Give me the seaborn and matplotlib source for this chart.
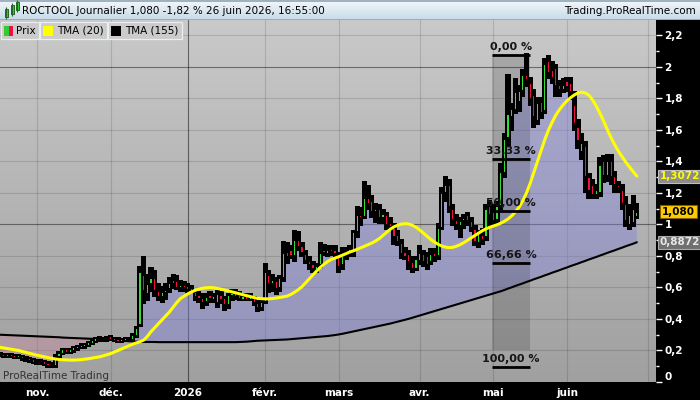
import numpy as np
import pandas as pd
import matplotlib
matplotlib.use("Agg")
import matplotlib.pyplot as plt
from matplotlib.patches import Rectangle
from matplotlib.colors import LinearSegmentedColormap
import seaborn as sns

sns.set_theme(style="white")
plt.rcParams["font.family"] = ["DejaVu Sans"]

# === Data: ROCTOOL daily, 20 Oct 2025 -> 26 Jun 2026 ===
holidays = pd.to_datetime(["2025-12-25", "2025-12-26", "2026-01-01",
                           "2026-04-03", "2026-04-06", "2026-05-01"])
days_all = pd.bdate_range("2025-10-20", "2026-07-03")
days_all = days_all[~days_all.isin(holidays)]
days = days_all[days_all <= pd.Timestamp("2026-06-26")]

opens = [.17, .17, .165, .17, .165, .16, .165, .145, .145, .14,
         .13, .125, .13, .115, .11, .105, .16, .185, .20, .19,
         .20, .215, .225, .23, .235, .25, .26, .275, .27, .275,
         .285, .275, .265, .26, .265, .27, .275, .295, .36, .68,
         .56, .62, .66, .58, .54, .57, .59, .65, .64, .60,
         .61, .60, .59, .57, .55, .53, .51, .55, .53, .50,
         .55, .53, .49, .55, .57, .55, .53, .54, .53, .53,
         .50, .47, .51, .68, .62, .64, .60, .66, .82, .84,
         .80, .90, .86, .81, .77, .75, .72, .74, .84, .81,
         .84, .84, .80, .74, .80, .83, .83, .95, 1.06, 1.05,
         1.17, 1.15, 1.08, 1.10, 1.05, 1.06, 1.00, .98, .93, .88,
         .82, .81, .76, .72, .77, .81, .80, .76, .81, .80,
         .98, 1.20, 1.25, 1.10, 1.03, .99, 1.02, 1.06, 1.02, .97,
         .88, .93, .92, 1.12, 1.08, 1.03, 1.12, 1.33, 1.55, 1.68,
         1.73, 1.78, 1.85, 1.95, 1.90, 1.82, 1.66, 1.78, 1.72, 2.04,
         1.98, 1.99, 1.88, 1.86, 1.91, 1.90, 1.76, 1.62, 1.46, 1.50,
         1.30, 1.25, 1.19, 1.20, 1.40, 1.31, 1.40, 1.31, 1.25, 1.22,
         1.13, 1.00, 1.01, 1.05]
highs = [.18, .175, .175, .175, .17, .17, .165, .155, .15, .145,
         .14, .135, .13, .125, .12, .17, .19, .21, .21, .205,
         .22, .23, .24, .24, .255, .27, .28, .285, .28, .285,
         .29, .28, .275, .27, .275, .28, .30, .35, .73, .79,
         .68, .72, .70, .62, .60, .62, .66, .68, .67, .64,
         .63, .62, .61, .575, .57, .56, .56, .57, .56, .575,
         .57, .54, .56, .58, .58, .57, .56, .56, .555, .535,
         .51, .52, .75, .70, .68, .66, .67, .89, .88, .86,
         .96, .95, .88, .83, .79, .76, .75, .88, .87, .86,
         .86, .86, .82, .85, .85, .86, .96, 1.11, 1.10, 1.27,
         1.24, 1.18, 1.13, 1.12, 1.09, 1.07, 1.04, 1.00, .96, .90,
         .85, .83, .79, .79, .86, .83, .82, .84, .84, 1.00,
         1.23, 1.30, 1.28, 1.12, 1.06, 1.04, 1.06, 1.07, 1.04, .99,
         .96, .97, 1.12, 1.15, 1.12, 1.14, 1.38, 1.57, 1.95, 1.76,
         1.92, 1.88, 1.98, 2.08, 1.93, 1.85, 1.80, 1.80, 2.05, 2.07,
         2.03, 2.01, 1.91, 1.92, 1.93, 1.93, 1.84, 1.66, 1.57, 1.52,
         1.32, 1.28, 1.25, 1.42, 1.43, 1.44, 1.44, 1.33, 1.27, 1.25,
         1.17, 1.12, 1.18, 1.13]
lows = [.165, .16, .16, .16, .155, .155, .14, .135, .13, .125,
        .115, .115, .11, .10, .095, .10, .15, .18, .185, .185,
        .195, .205, .215, .22, .23, .24, .255, .26, .26, .265,
        .27, .26, .255, .255, .26, .26, .27, .29, .36, .50,
        .52, .58, .55, .52, .51, .53, .57, .60, .59, .58,
        .58, .575, .57, .52, .51, .47, .49, .51, .51, .48,
        .50, .46, .47, .52, .53, .52, .52, .52, .52, .49,
        .455, .46, .50, .57, .58, .56, .58, .64, .76, .79,
        .77, .84, .80, .76, .72, .70, .70, .73, .81, .80,
        .81, .79, .70, .72, .78, .80, .80, .92, 1.00, 1.04,
        1.10, 1.05, 1.02, 1.01, 1.01, .97, .97, .88, .87, .79,
        .78, .72, .70, .71, .75, .74, .72, .75, .77, .78,
        .97, 1.15, 1.08, 1.00, .97, .92, .98, 1.00, .96, .87,
        .86, .88, .90, 1.00, 1.00, 1.01, 1.10, 1.30, 1.50, 1.60,
        1.71, 1.72, 1.82, 1.88, 1.76, 1.62, 1.64, 1.68, 1.71, 1.93,
        1.90, 1.82, 1.82, 1.84, 1.85, 1.80, 1.60, 1.49, 1.42, 1.21,
        1.17, 1.17, 1.17, 1.18, 1.27, 1.28, 1.26, 1.21, 1.21, 1.10,
        .99, .97, .99, 1.04]
closes = [.17, .165, .17, .165, .16, .165, .145, .145, .14, .13,
          .125, .13, .115, .11, .105, .16, .185, .20, .19, .20,
          .215, .225, .23, .235, .25, .26, .275, .27, .275, .27,
          .275, .265, .26, .265, .27, .275, .295, .34, .70, .58,
          .62, .66, .58, .54, .57, .58, .63, .62, .60, .61,
          .60, .59, .58, .54, .53, .50, .54, .53, .54, .56,
          .52, .49, .55, .56, .54, .53, .54, .53, .535, .50,
          .47, .51, .70, .62, .65, .59, .66, .82, .80, .80,
          .90, .86, .82, .77, .74, .72, .73, .82, .82, .84,
          .83, .81, .73, .80, .83, .84, .95, 1.06, 1.04, 1.17,
          1.13, 1.08, 1.10, 1.04, 1.06, 1.00, .99, .92, .89, .81,
          .80, .76, .72, .78, .82, .76, .74, .81, .80, .98,
          1.20, 1.25, 1.11, 1.03, 1.00, 1.02, 1.04, 1.02, .98, .89,
          .94, .90, 1.10, 1.06, 1.02, 1.12, 1.33, 1.54, 1.70, 1.73,
          1.84, 1.85, 1.95, 1.92, 1.80, 1.68, 1.77, 1.71, 2.02, 1.96,
          1.93, 1.88, 1.86, 1.88, 1.87, 1.84, 1.64, 1.53, 1.52, 1.30,
          1.21, 1.19, 1.22, 1.38, 1.31, 1.40, 1.30, 1.25, 1.23, 1.13,
          1.02, 1.06, 1.10, 1.08]

# triangular moving averages as drawn on the chart
tma20 = [.220, .216, .212, .208, .204, .200, .194, .188, .182, .176,
         .170, .165, .160, .155, .150, .146, .143, .141, .140, .139,
         .139, .140, .142, .145, .148, .152, .156, .160, .166, .173,
         .180, .190, .200, .210, .220, .230, .240, .248, .256, .266,
         .290, .320, .345, .370, .395, .420, .445, .475, .505, .530,
         .545, .560, .572, .582, .590, .595, .598, .600, .598, .594,
         .589, .584, .578, .572, .566, .560, .554, .548, .542, .536,
         .531, .529, .528, .528, .530, .533, .537, .541, .546, .556,
         .570, .586, .605, .630, .655, .680, .705, .728, .748, .765,
         .778, .787, .795, .805, .815, .825, .833, .842, .852, .862,
         .872, .882, .895, .910, .930, .950, .970, .985, .995, 1.002,
         1.005, 1.003, .995, .982, .965, .945, .925, .905, .888, .874,
         .863, .856, .853, .855, .862, .872, .885, .900, .915, .930,
         .945, .960, .972, .982, .990, .998, 1.008, 1.020, 1.035, 1.055,
         1.080, 1.110, 1.150, 1.200, 1.260, 1.330, 1.400, 1.470, 1.540, 1.600,
         1.650, 1.695, 1.730, 1.760, 1.785, 1.805, 1.822, 1.835, 1.840, 1.835,
         1.820, 1.790, 1.750, 1.705, 1.655, 1.600, 1.550, 1.505, 1.465, 1.430,
         1.395, 1.365, 1.335, 1.3072]
tma155 = [.300, .299, .298, .297, .296, .295, .294, .293, .292, .291,
          .290, .289, .288, .287, .286, .285, .284, .282, .281, .280,
          .279, .278, .277, .276, .275, .274, .273, .272, .271, .270,
          .269, .267, .265, .263, .261, .259, .257, .256, .255, .254,
          .254, .254, .254, .253, .253, .253, .253, .253, .253, .253,
          .253, .253, .253, .253, .253, .253, .253, .253, .253, .253,
          .253, .253, .253, .253, .253, .254, .255, .256, .258, .260,
          .262, .263, .264, .265, .266, .267, .268, .269, .270, .272,
          .274, .276, .278, .280, .282, .284, .286, .288, .290, .292,
          .295, .298, .302, .306, .311, .316, .321, .326, .331, .336,
          .341, .346, .351, .356, .361, .366, .371, .377, .383, .389,
          .395, .401, .408, .415, .422, .429, .436, .443, .450, .457,
          .464, .471, .478, .485, .492, .499, .506, .513, .520, .527,
          .534, .541, .548, .555, .562, .569, .576, .584, .593, .601,
          .610, .618, .626, .635, .643, .652, .660, .668, .677, .685,
          .694, .702, .710, .719, .727, .736, .744, .752, .761, .769,
          .778, .786, .794, .803, .811, .820, .828, .836, .845, .853,
          .862, .870, .878, .8872]

month_labels = ["nov.", "déc.", "2026", "févr.", "mars", "avr.", "mai", "juin", ""]
y_ticks = [0, 0.2, 0.4, 0.6, 0.8, 1.0, 1.2, 1.4, 1.6, 1.8, 2.0, 2.2]
y_labels = ["0", "0,2", "0,4", "0,6", "0,8", "1", "1,2", "1,4", "1,6", "1,8", "2", "2,2"]

fib_high, fib_low = 2.076, 0.095
fib_pcts = [0.0, 33.33, 50.0, 66.66, 100.0]
fib_x0, fib_x1 = 133.6, 144.0

df = pd.DataFrame({"pos": np.arange(len(days)), "date": days, "open": opens,
                   "high": highs, "low": lows, "close": closes,
                   "tma20": tma20, "tma155": tma155})

months = days_all.to_period("M")
month_pos = [i for i in range(1, len(days_all)) if months[i] != months[i - 1]]

# === Figure ===
W, H = 700, 400
fig = plt.figure(figsize=(7, 4), dpi=100, facecolor="black")
ax = fig.add_axes([0, 1 - 382 / H, 656 / W, (382 - 20) / H])
ax.set_facecolor("#b4b4b4")

bg = LinearSegmentedColormap.from_list("bg", ["#c9c9c9", "#a0a0a0"])
ax.imshow(np.linspace(0, 1, 256)[:, None], extent=[0, 1, 0, 1], transform=ax.transAxes,
          cmap=bg, aspect="auto", zorder=0)

for v in y_ticks[1:]:
    strong = abs(v - round(v)) < 1e-9
    ax.axhline(v, color="black", alpha=0.45 if strong else 0.13, lw=0.8, zorder=0.5)
for p, lab in zip(month_pos, month_labels):
    ax.axvline(p, color="black", alpha=0.5 if lab == "2026" else 0.13, lw=0.8, zorder=0.5)

c = df["close"].values
t = df["tma155"].values
ax.fill_between(df["pos"], c, t, where=c >= t, interpolate=True,
                color="#8282dc", alpha=0.42, lw=0, zorder=1)
ax.fill_between(df["pos"], c, t, where=c < t, interpolate=True,
                color="#c88aa0", alpha=0.42, lw=0, zorder=1)

# fibonacci retracement zone
fib_levels = [fib_high - p / 100 * (fib_high - fib_low) for p in fib_pcts]
ax.add_patch(Rectangle((fib_x0, fib_low + 0.11), fib_x1 - fib_x0, fib_high - fib_low - 0.11,
                       facecolor="black", alpha=0.15, lw=0, zorder=1.5))

sns.lineplot(data=df, x="pos", y="tma155", color="black", lw=1.5, ax=ax, zorder=2)

# candles
o = df["open"].values
pad = 0.008
ax.bar(df["pos"], df["high"] - df["low"] + 2 * pad, bottom=df["low"] - pad, width=1.4,
       color="black", lw=0, zorder=3)
lo_b = np.minimum(o, c)
hi_b = np.maximum(o, c)
inset = np.where(hi_b - lo_b > 0.02, 0.006, 0.0)
cols = np.where(c >= o, "#33dd33", "#ee1144")
ax.bar(df["pos"], np.maximum(hi_b - lo_b - 2 * inset, 0.004), bottom=lo_b + inset, width=0.32,
       color=cols, lw=0, zorder=3.5)

sns.lineplot(data=df, x="pos", y="tma20", color="#ffff00", lw=2.2, ax=ax, zorder=4)

for pct, lvl in zip(fib_pcts, fib_levels):
    ax.hlines(lvl, fib_x0, fib_x1, color="black", lw=2, zorder=5)
    ax.annotate(f"{pct:.2f} %".replace(".", ","), xy=((fib_x0 + fib_x1) / 2, lvl),
                xytext=(0, 2), textcoords="offset points", ha="center", va="bottom",
                fontsize=8, fontweight="bold", color="#151515", zorder=6)

ax.set_xlim(-0.05, 178.2)
ax.set_ylim(0, 2.298)
ax.set_xlabel("")
ax.set_ylabel("")
for s in ax.spines.values():
    s.set_visible(False)

ax.yaxis.tick_right()
ax.set_yticks(y_ticks)
ax.set_yticklabels(y_labels, fontweight="bold", fontsize=7.5)
ax.set_yticks(np.arange(0.1, 2.3, 0.2), minor=True)
ax.tick_params(axis="y", which="major", colors="white", length=4, width=1, pad=2)
ax.tick_params(axis="y", which="minor", colors="white", length=2, width=1)
ax.get_yticklabels()[0].set_va("bottom")
ax.set_xticks(month_pos)
ax.set_xticklabels(month_labels, fontweight="bold", fontsize=7.5)
ax.tick_params(axis="x", colors="white", length=3, width=1, pad=1.5)

# last-value boxes on the price scale
ytr = ax.get_yaxis_transform()
fmt = lambda v, n: f"{v:.{n}f}".replace(".", ",")
ax.text(1 + 4 / 656, tma20[-1], fmt(tma20[-1], 4), transform=ytr, ha="left", va="center",
        fontsize=7.5, fontweight="bold", color="#ffff00", clip_on=False, zorder=10,
        bbox=dict(boxstyle="square,pad=0.15", fc="#8c8c8c", ec="#bdbdbd", lw=0.8))
ax.text(1 + 6 / 656, closes[-1], fmt(closes[-1], 3), transform=ytr, ha="left", va="center",
        fontsize=7.5, fontweight="bold", color="black", clip_on=False, zorder=10,
        bbox=dict(boxstyle="square,pad=0.15", fc="#ffcc00", ec="#806000", lw=0.8))
ax.text(1 + 4 / 656, tma155[-1], fmt(tma155[-1], 4), transform=ytr, ha="left", va="center",
        fontsize=7.5, fontweight="bold", color="#e8e8e8", clip_on=False, zorder=10,
        bbox=dict(boxstyle="square,pad=0.15", fc="#707070", ec="#a8a8a8", lw=0.8))

# === title bar ===
tb = fig.add_axes([0, 1 - 20 / H, 1, 20 / H])
tb.axis("off")
tbg = LinearSegmentedColormap.from_list("tb", ["#f4f8fb", "#c6dbe8"])
tb.imshow(np.linspace(0, 1, 64)[:, None], extent=[0, W, 20, 0], cmap=tbg, aspect="auto")
tb.set_xlim(0, W)
tb.set_ylim(20, 0)
tb.axhline(0.5, color="#8fa5b5", lw=1.2)
tb.axhline(19.5, color="#8fa5b5", lw=1.2)
for x0, y0, y1 in [(5, 9, 17), (11, 5, 14), (16, 2, 10)]:
    tb.vlines(x0 + 1, y0 - 2, y1 + 2, color="#226622", lw=0.8)
    tb.add_patch(Rectangle((x0, y0), 2.5, y1 - y0, fc="#33cc33", ec="#115511", lw=0.6))
chg = (closes[-1] / closes[-2] - 1) * 100
title = f"ROCTOOL Journalier {fmt(closes[-1], 3)} {fmt(chg, 2)} % 26 juin 2026, 16:55:00"
tb.text(22, 10.5, title, ha="left", va="center", fontsize=7.5, color="black")
tb.text(696, 10.5, "Trading.ProRealTime.com", ha="right", va="center", fontsize=7.5, color="black")

# === legend row and watermark (pixel overlay) ===
ov = fig.add_axes([0, 0, 1, 1], facecolor="none")
ov.axis("off")
ov.set_xlim(0, W)
ov.set_ylim(H, 0)
for x0, w in [(1, 38), (40, 67), (108, 74)]:
    ov.add_patch(Rectangle((x0, 21.5), w, 17, fc="#cbcbcb", ec="#e8eef2", lw=0.9))
ov.add_patch(Rectangle((4, 25.5), 4.5, 10, fc="#33cc33", lw=0))
ov.add_patch(Rectangle((8.5, 25.5), 4.5, 10, fc="#ee1144", lw=0))
ov.text(16, 30.5, "Prix", ha="left", va="center", fontsize=7.5, color="black")
ov.add_patch(Rectangle((43, 25.5), 10, 10, fc="#ffff00", lw=0))
ov.text(57, 30.5, "TMA (20)", ha="left", va="center", fontsize=7.5, color="black")
ov.add_patch(Rectangle((111, 25.5), 10, 10, fc="black", lw=0))
ov.text(125, 30.5, "TMA (155)", ha="left", va="center", fontsize=7.5, color="black")
ov.text(3, 376, "ProRealTime Trading", ha="left", va="center", fontsize=7.5, color="#333333")

fig.savefig("out.png", dpi=100, facecolor="black")
